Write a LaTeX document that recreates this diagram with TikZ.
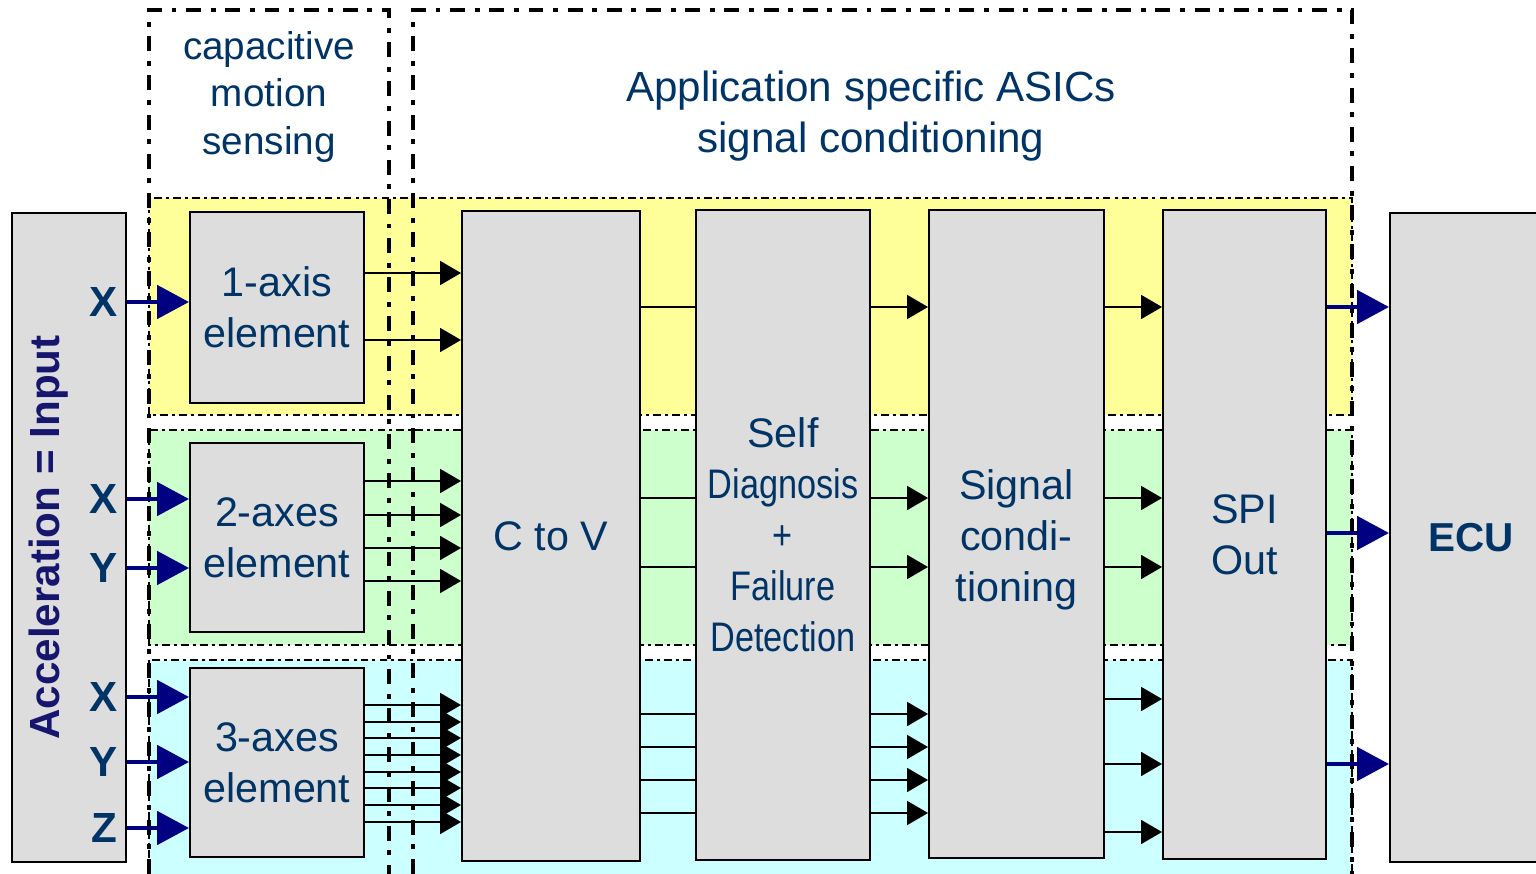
\documentclass[tikz,border=0pt]{standalone}
\usepackage{fontspec}
\setmainfont{Liberation Sans}
\usepackage{xcolor}
\usepackage{graphicx}
\usetikzlibrary{arrows.meta}

\definecolor{bandyellow}{HTML}{FFFF99}
\definecolor{bandgreen}{HTML}{CCFFCC}
\definecolor{bandcyan}{HTML}{CCFFFF}
\definecolor{boxgray}{HTML}{DDDDDD}
\definecolor{textnavy}{HTML}{003366}
\definecolor{accnavy}{HTML}{16166E}
\definecolor{arrownavy}{HTML}{000080}

\begin{document}
\begin{tikzpicture}[x=0.02cm,y=-0.02cm,
        box/.style={draw=black, line width=1.1pt, fill=boxgray, text=textnavy,
            align=center, inner sep=0pt, font=\fontsize{23.5}{29}\selectfont},
        sigline/.style={line width=1pt},
        sigarrow/.style={line width=1pt, -{Triangle[length=0.42cm,width=0.48cm]}},
        bigarrow/.style={draw=arrownavy, line width=2.8pt,
            -{Triangle[length=0.64cm,width=0.66cm]}},
        framedash/.style={line width=1.8pt,
            dash pattern=on 8.5pt off 5.5pt on 2.8pt off 5.5pt},
        banddash/.style={line width=0.9pt,
            dash pattern=on 4.5pt off 2.3pt on 1.7pt off 2.3pt},
        axislabel/.style={text=textnavy, inner sep=0pt,
            font=\bfseries\fontsize{24}{28}\selectfont}]
        \useasboundingbox (0,0) rectangle (1536,874);
        \clip (0,0) rectangle (1536,874);

        % bands
        \filldraw[banddash, fill=bandyellow] (149,198) rectangle (1352,415);
        \filldraw[banddash, fill=bandgreen] (149,430) rectangle (1352,645);
        \filldraw[banddash, fill=bandcyan] (149,660) rectangle (1352,876);

        % frames
        \draw[framedash] (149,874) -- (149,10) -- (389,10) -- (389,874);
        \draw[framedash] (413,874) -- (413,10) -- (1352,10) -- (1352,874);

        \node[text=textnavy, align=center, font=\fontsize{22}{27}\selectfont]
        (motion) at (269,97) {capacitive\\motion\\sensing};
        \node[text=textnavy, align=center, font=\fontsize{24}{29}\selectfont]
        (asics) at (871,116) {Application specific ASICs\\signal conditioning};

        % blocks
        \node[box, minimum width=2.28cm, minimum height=12.98cm] (inp) at (69,537.5) {};
        \node[rotate=90, text=accnavy, inner sep=0pt,
            font=\bfseries\fontsize{24}{28}\selectfont] (acc) at (49,537.5)
        {Acceleration = Input};
        \node[box, minimum width=3.48cm, minimum height=3.82cm] (one) at (277,307.5)
        {1-axis\\element};
        \node[box, minimum width=3.48cm, minimum height=3.78cm] (two) at (277,537.5)
        {2-axes\\element};
        \node[box, minimum width=3.48cm, minimum height=3.78cm] (three) at (277,762.5)
        {3-axes\\element};
        \node[box, minimum width=3.56cm, minimum height=13cm] (ctov) at (551,536)
        {C to V};
        \node[box, minimum width=3.48cm, minimum height=13cm] (diag) at (783,535)
        {Self\\\scalebox{0.83}[1]{Diagnosis}\\\scalebox{0.83}[1]{+}\\
            \scalebox{0.83}[1]{Failure}\\\scalebox{0.83}[1]{Detection}};
        \node[box, minimum width=3.5cm, minimum height=12.96cm] (cond) at (1016.5,534)
        {\raisebox{-0.12cm}[\height][\depth]{\begin{tabular}{@{}c@{}}Signal\\condi-\\tioning\end{tabular}}};
        \node[box, minimum width=3.26cm, minimum height=12.98cm] (spi) at (1244.5,534.5)
        {SPI\\Out};
        \node[box, minimum width=3.24cm, minimum height=12.98cm,
            font=\bfseries\fontsize{23}{28}\selectfont] (ecu) at (1471,537.5) {ECU};

        % inputs
        \foreach \y/\l/\b [count=\i] in {302/X/one, 499/X/two, 568/Y/two,
            697/X/three, 762/Y/three, 828/Z/three}{
            \node[axislabel] (ax\i) at (104,\y) {\l};
            \draw[bigarrow] (inp.east |- 0,\y) -- (\b.west |- 0,\y);
        }

        % signal paths
        \foreach \y in {273,340}
            \draw[sigarrow] (one.east |- 0,\y) -- (ctov.west |- 0,\y);
        \foreach \y in {481,515,548,581}
            \draw[sigarrow] (two.east |- 0,\y) -- (ctov.west |- 0,\y);
        \foreach \y in {705,722,738,755,772,788,805,822}
            \draw[sigarrow] (three.east |- 0,\y) -- (ctov.west |- 0,\y);
        \foreach \y in {307,498,567,714,747,780,813}{
            \draw[sigline] (ctov.east |- 0,\y) -- (diag.west |- 0,\y);
            \draw[sigarrow] (diag.east |- 0,\y) -- (cond.west |- 0,\y);
        }
        \foreach \y in {307,498,567,699,764,832}
            \draw[sigarrow] (cond.east |- 0,\y) -- (spi.west |- 0,\y);
        \foreach \y in {307,533,764}
            \draw[bigarrow] (spi.east |- 0,\y) -- (ecu.west |- 0,\y);
\end{tikzpicture}
\end{document}
